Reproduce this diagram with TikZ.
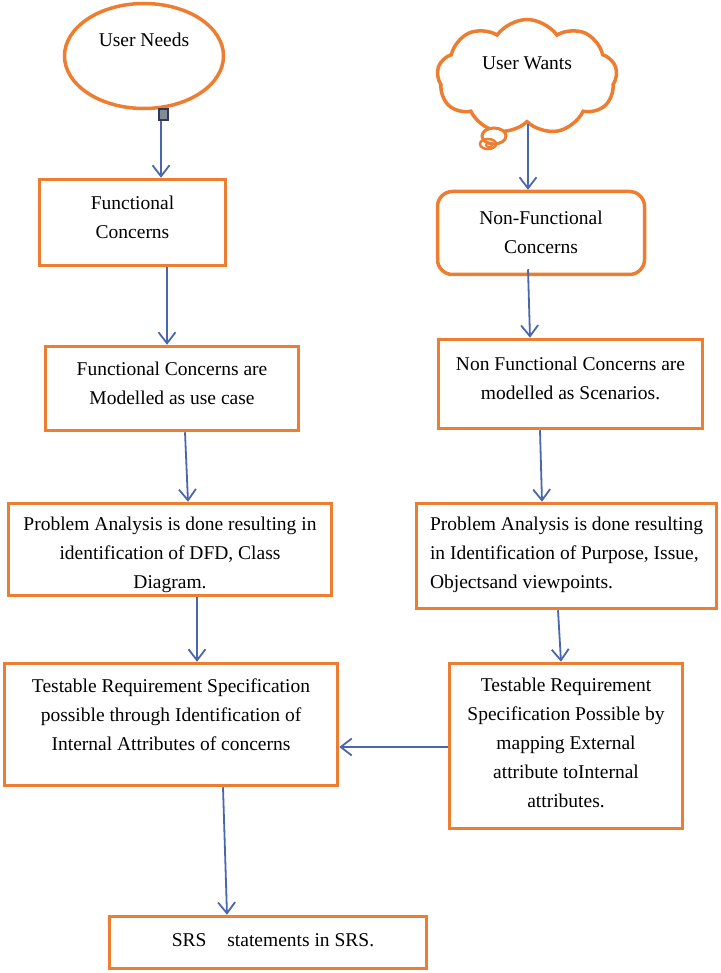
\documentclass[tikz,border=0pt]{standalone}
\usepackage{fontspec}
\setmainfont{Liberation Serif}
\usetikzlibrary{arrows.meta,shapes.geometric,shapes.symbols}
\definecolor{orng}{HTML}{ED7D31}
\definecolor{arrblue}{HTML}{4A66AC}
\definecolor{handle}{HTML}{2F3B55}
\tikzset{
  box/.style={draw=orng, line width=3.5pt, fill=white, inner sep=0pt, align=center},
  lbl/.style={font=\fontsize{19.5}{29}\selectfont, align=center},
  arr/.style={draw=arrblue, line width=1.8pt, -{Straight Barb[length=11pt,width=17pt]}},
}
\begin{document}
\begin{tikzpicture}[x=1pt,y=-1pt, font=\fontsize{19.5}{29}\selectfont]
\useasboundingbox (0,0) rectangle (720,973);
% left column
\node[box, ellipse, minimum width=159pt, minimum height=105pt,
      label={[lbl, yshift=16pt]center:User Needs}] (un) at (144,56) {};
\node[draw=handle, fill=handle!60, line width=2pt, minimum width=9pt, minimum height=11pt, inner sep=0pt] (hd) at (163,115) {};
\node[box, minimum width=186pt, minimum height=86pt,
      label={[lbl, yshift=5pt]center:Functional\\Concerns}] (fc) at (132.5,222.5) {};
\node[box, minimum width=253pt, minimum height=84pt,
      label={[lbl, yshift=5pt]center:Functional Concerns are\\Modelled as use case}] (fcm) at (172,388.5) {};
\node[box, minimum width=323pt, minimum height=92pt,
      label={[lbl, yshift=-5pt]center:Problem Analysis is done resulting in\\identification of DFD, Class\\Diagram.}] (paL) at (170,549.5) {};
\node[box, minimum width=333pt, minimum height=122pt,
      label={[lbl, yshift=10pt]center:Testable Requirement Specification\\possible through Identification of\\Internal Attributes of concerns}] (tL) at (171,724.5) {};
\node[box, minimum width=317pt, minimum height=52pt,
      label={[lbl, xshift=5pt, yshift=2pt]center:SRS\hspace{16pt} statements in SRS.}] (srs) at (268,942.5) {};
% right column
\node[box, cloud, cloud puffs=9, cloud puff arc=110, aspect=1.6,
      minimum width=180pt, minimum height=115pt,
      label={[lbl, yshift=14pt]center:User Wants}] (uw) at (527,77) {};
\draw[orng, line width=3pt, fill=white] (494,136) ellipse [x radius=12, y radius=8];
\draw[orng, line width=2.5pt] (488,144) ellipse [x radius=8, y radius=5];
\draw[orng, line width=2pt] (489,145) ellipse [x radius=3, y radius=2];
\node[box, rounded corners=15pt, minimum width=207pt, minimum height=83pt,
      label={[lbl, yshift=1pt]center:Non-Functional\\Concerns}] (nf) at (541,233) {};
\node[box, minimum width=264pt, minimum height=89pt,
      label={[lbl, yshift=6pt]center:Non Functional Concerns are\\modelled as Scenarios.}] (nfm) at (570.5,384) {};
\node[box, minimum width=300pt, minimum height=105pt,
      label={[lbl, align=left, yshift=1pt]center:Problem Analysis is done resulting\\in Identification of Purpose, Issue,\\Objectsand viewpoints.}] (paR) at (566.5,556) {};
\node[box, minimum width=233pt, minimum height=165pt,
      label={[lbl, yshift=3pt]center:Testable Requirement\\Specification Possible by\\mapping External\\attribute toInternal\\attributes.}] (tR) at (566,746) {};
% connectors
\draw[arr] (hd.south -| 161,0) -- (fc.north -| 161,0);
\draw[arr] (fc.south -| 167,0) -- (fcm.north -| 167,0);
\draw[arr] (fcm.south -| 185,0) -- (paL.north -| 188,0);
\draw[arr] (paL.south -| 197,0) -- (tL.north -| 197,0);
\draw[arr] (tL.south -| 223,0) -- (srs.north -| 227,0);
\draw[arr] (uw.south -| 528,0) -- (nf.north -| 528,0);
\draw[arr] ([yshift=7pt]nf.south -| 528,0) -- (nfm.north -| 530,0);
\draw[arr] (nfm.south -| 540,0) -- (paR.north -| 542,0);
\draw[arr] (paR.south -| 558,0) -- (tR.north -| 561,0);
\draw[arr] (tR.west |- 0,747) -- (tL.east |- 0,747);
\end{tikzpicture}
\end{document}
